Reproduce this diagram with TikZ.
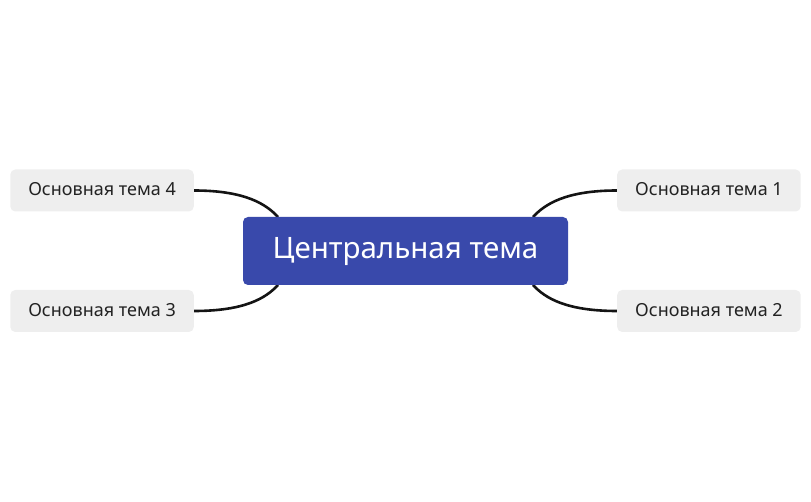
\documentclass[tikz,border=0pt]{standalone}
\usepackage{fontspec}
\setmainfont{Noto Sans}
\begin{document}
\begin{tikzpicture}[x=1pt,y=-1pt,
  central/.style={fill=centralblue,rounded corners=5pt,text=white,font=\fontsize{29.5}{33}\selectfont,minimum width=325pt,minimum height=68pt,inner sep=0pt,text height=21pt,text depth=5pt},
  topic/.style={fill=topicgray,rounded corners=5pt,text=topictext,font=\fontsize{18}{22}\selectfont,minimum height=42pt,inner xsep=18pt,inner ysep=0pt,text height=13pt,text depth=2pt},
  link/.style={line width=2.6pt,draw=black!92}]
\definecolor{centralblue}{HTML}{3949AB}
\definecolor{topicgray}{HTML}{EEEEEE}
\definecolor{topictext}{HTML}{222222}
\useasboundingbox (0,0) rectangle (811,502);
\coordinate (lt) at (278,217);
\coordinate (lb) at (278,285);
\coordinate (rt) at (533,217);
\coordinate (rb) at (533,285);
\draw[link] (194,190.5) coordinate (t4e) .. controls (245,190.5) and (266,204) .. (lt);
\draw[link] (194,311) coordinate (t3e) .. controls (245,311) and (266,298) .. (lb);
\draw[link] (617,190.5) coordinate (t1w) .. controls (566,190.5) and (545,204) .. (rt);
\draw[link] (617,311) coordinate (t2w) .. controls (566,311) and (545,298) .. (rb);
\node[central] (c) at (405.5,251) {Центральная тема};
\node[topic,anchor=east] (t4) at (194,190.5) {Основная тема 4};
\node[topic,anchor=east] (t3) at (194,311) {Основная тема 3};
\node[topic,anchor=west] (t1) at (617,190.5) {Основная тема 1};
\node[topic,anchor=west] (t2) at (617,311) {Основная тема 2};
\end{tikzpicture}
\end{document}
